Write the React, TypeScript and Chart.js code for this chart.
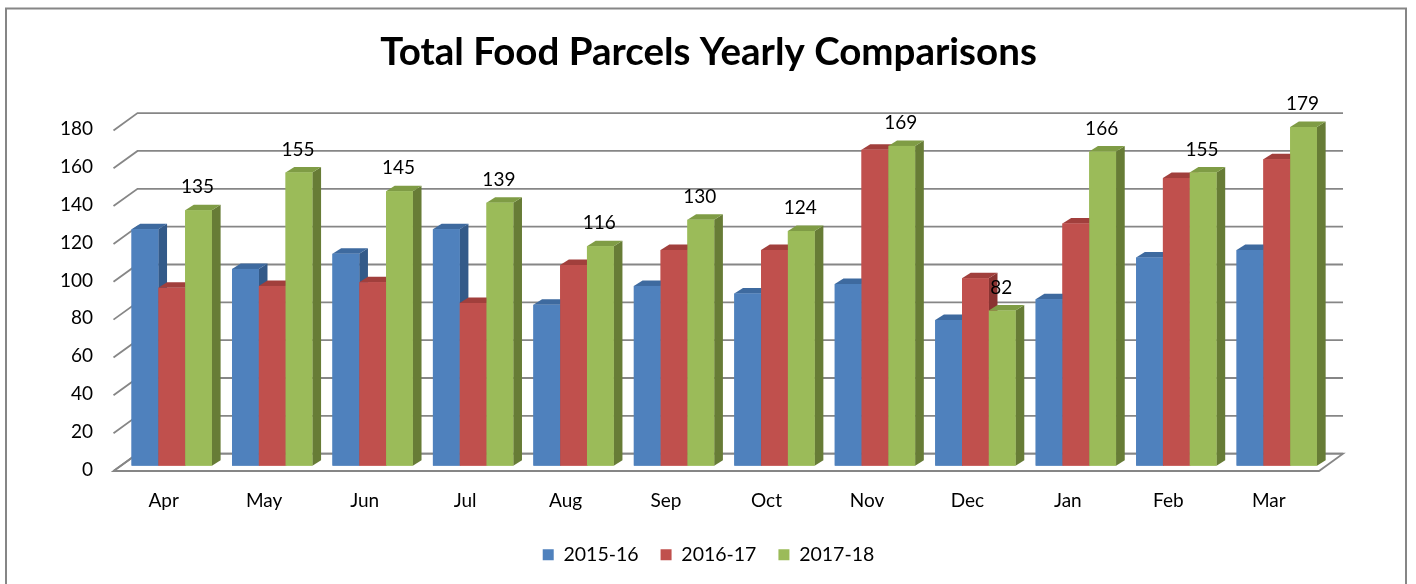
import React, { useEffect, useRef } from "react";
import { Chart, registerables } from "chart.js";

Chart.register(...registerables);

const months = ["Apr", "May", "Jun", "Jul", "Aug", "Sep", "Oct", "Nov", "Dec", "Jan", "Feb", "Mar"];
const seriesNames = ["2015-16", "2016-17", "2017-18"];
const values1516 = [125, 104, 112, 125, 85, 95, 91, 96, 77, 88, 110, 114];
const values1617 = [94, 95, 97, 86, 106, 114, 114, 167, 99, 128, 152, 162];
const values1718 = [135, 155, 145, 139, 116, 130, 124, 169, 82, 166, 155, 179];
const yMin = 0;
const yMax = 180;
const yStep = 20;
const titleText = "Total Food Parcels Yearly Comparisons";

const FRONT = ["#4F81BD", "#C0504D", "#9BBB59"];
const TOP = ["#3E6A9F", "#A13F3C", "#7F9C45"];
const SIDE = ["#335A89", "#8A3331", "#677C36"];
const FONT = "Lato, 'Open Sans', sans-serif";

// 3D geometry offsets (pixels)
const BAR_DX = 8.7;
const BAR_DY = -5.5;
const BACK_DX = 16;
const BACK_DY = -12;
const FRONT_DX = -8;
const FRONT_DY = 5.3;

const threeD = {
  id: "threeD",
  beforeDraw(chart: any) {
    const ctx = chart.ctx;
    ctx.save();
    ctx.fillStyle = "#ffffff";
    ctx.fillRect(0, 0, chart.width, chart.height);
    ctx.strokeStyle = "#868686";
    ctx.lineWidth = 2;
    ctx.strokeRect(6, 8.5, 1400, 700);
    ctx.restore();
  },
  beforeDatasetsDraw(chart: any) {
    const ctx = chart.ctx;
    const { left, right } = chart.chartArea;
    const ys = chart.scales.y;
    ctx.save();
    ctx.strokeStyle = "#868686";
    ctx.lineWidth = 1.8;
    // floor
    const y0 = ys.getPixelForValue(0);
    ctx.fillStyle = "#ffffff";
    ctx.beginPath();
    ctx.moveTo(left + FRONT_DX, y0 + FRONT_DY);
    ctx.lineTo(right + FRONT_DX, y0 + FRONT_DY);
    ctx.lineTo(right + BACK_DX, y0 + BACK_DY);
    ctx.lineTo(left + BACK_DX, y0 + BACK_DY);
    ctx.closePath();
    ctx.fill();
    ctx.stroke();
    ys.ticks.forEach((t: any) => {
      const py = ys.getPixelForValue(t.value);
      ctx.beginPath();
      ctx.moveTo(left + FRONT_DX, py + FRONT_DY);
      ctx.lineTo(left + BACK_DX, py + BACK_DY);
      ctx.lineTo(right + BACK_DX, py + BACK_DY);
      ctx.stroke();
    });
    // y tick labels at the front edge of the side wall
    ctx.fillStyle = "#000000";
    ctx.font = `19px ${FONT}`;
    ctx.textAlign = "right";
    ctx.textBaseline = "middle";
    ys.ticks.forEach((t: any) => {
      const py = ys.getPixelForValue(t.value);
      ctx.fillText(String(t.value), left - 28.5, py + 4);
    });
    ctx.restore();
  },
  afterDatasetsDraw(chart: any) {
    const ctx = chart.ctx;
    const n = chart.data.labels.length;
    const nd = chart.data.datasets.length;
    ctx.save();
    for (let i = 0; i < n; i++) {
      for (let d = 0; d < nd; d++) {
        const el = chart.getDatasetMeta(d).data[i];
        const { x, y, base, width } = el.getProps(["x", "y", "base", "width"], true);
        const l = x - width / 2;
        const r = x + width / 2;
        // side
        ctx.fillStyle = SIDE[d];
        ctx.beginPath();
        ctx.moveTo(r, y);
        ctx.lineTo(r + BAR_DX, y + BAR_DY);
        ctx.lineTo(r + BAR_DX, base + BAR_DY);
        ctx.lineTo(r, base);
        ctx.closePath();
        ctx.fill();
        // top
        ctx.fillStyle = TOP[d];
        ctx.beginPath();
        ctx.moveTo(l, y);
        ctx.lineTo(r, y);
        ctx.lineTo(r + BAR_DX, y + BAR_DY);
        ctx.lineTo(l + BAR_DX, y + BAR_DY);
        ctx.closePath();
        ctx.fill();
        // front
        ctx.fillStyle = FRONT[d];
        ctx.fillRect(l, y, width, base - y);
      }
    }
    // data labels for the last series
    const last = nd - 1;
    const meta = chart.getDatasetMeta(last);
    ctx.fillStyle = "#000000";
    ctx.font = `19px ${FONT}`;
    ctx.textAlign = "center";
    ctx.textBaseline = "middle";
    meta.data.forEach((el: any, i: number) => {
      const { x, y } = el.getProps(["x", "y"], true);
      ctx.fillText(String(chart.data.datasets[last].data[i]), x - 1, y - 23);
    });
    ctx.restore();
  },
};

export default function App() {
  const ref = useRef<HTMLCanvasElement | null>(null);
  useEffect(() => {
    if (!ref.current) return;
    Chart.defaults.font.family = FONT;
    const chart = new Chart(ref.current, {
      type: "bar",
      data: {
        labels: months,
        datasets: [values1516, values1617, values1718].map((vals, i) => ({
          label: seriesNames[i],
          data: vals,
          backgroundColor: FRONT[i],
          borderWidth: 0,
          categoryPercentage: 0.8,
          barPercentage: 1.0,
        })),
      },
      options: {
        animation: false,
        responsive: false,
        maintainAspectRatio: false,
        layout: { padding: { left: 90, right: 89, top: 0, bottom: 9.5 } },
        plugins: {
          title: {
            display: true,
            text: titleText,
            color: "#000000",
            font: { family: FONT, size: 38.5, weight: "bold" },
            padding: { top: 29.7, bottom: 49.2 },
          },
          legend: {
            position: "bottom",
            labels: {
              color: "#000000",
              boxWidth: 11,
              boxHeight: 11,
              padding: 22,
              font: { family: FONT, size: 19.5 },
            },
          },
          tooltip: { enabled: false },
        },
        scales: {
          x: {
            grid: { display: false, drawTicks: false },
            border: { display: false },
            ticks: { color: "#000000", font: { family: FONT, size: 19 }, padding: 24, labelOffset: -8 },
            afterFit: (s: any) => {
              s.height = 57.3;
            },
          },
          y: {
            min: yMin,
            max: yMax,
            grid: { display: false, drawTicks: false },
            border: { display: false },
            ticks: { stepSize: yStep, display: false },
            afterFit: (s: any) => {
              s.width = 31.5;
            },
          },
        },
      },
      plugins: [threeD],
    });
    return () => chart.destroy();
  }, []);
  return (
    <div style={{ position: "fixed", left: 0, top: 0, width: 1416, height: 584, background: "#fff" }}>
      <canvas ref={ref} width={1416} height={584} />
    </div>
  );
}
